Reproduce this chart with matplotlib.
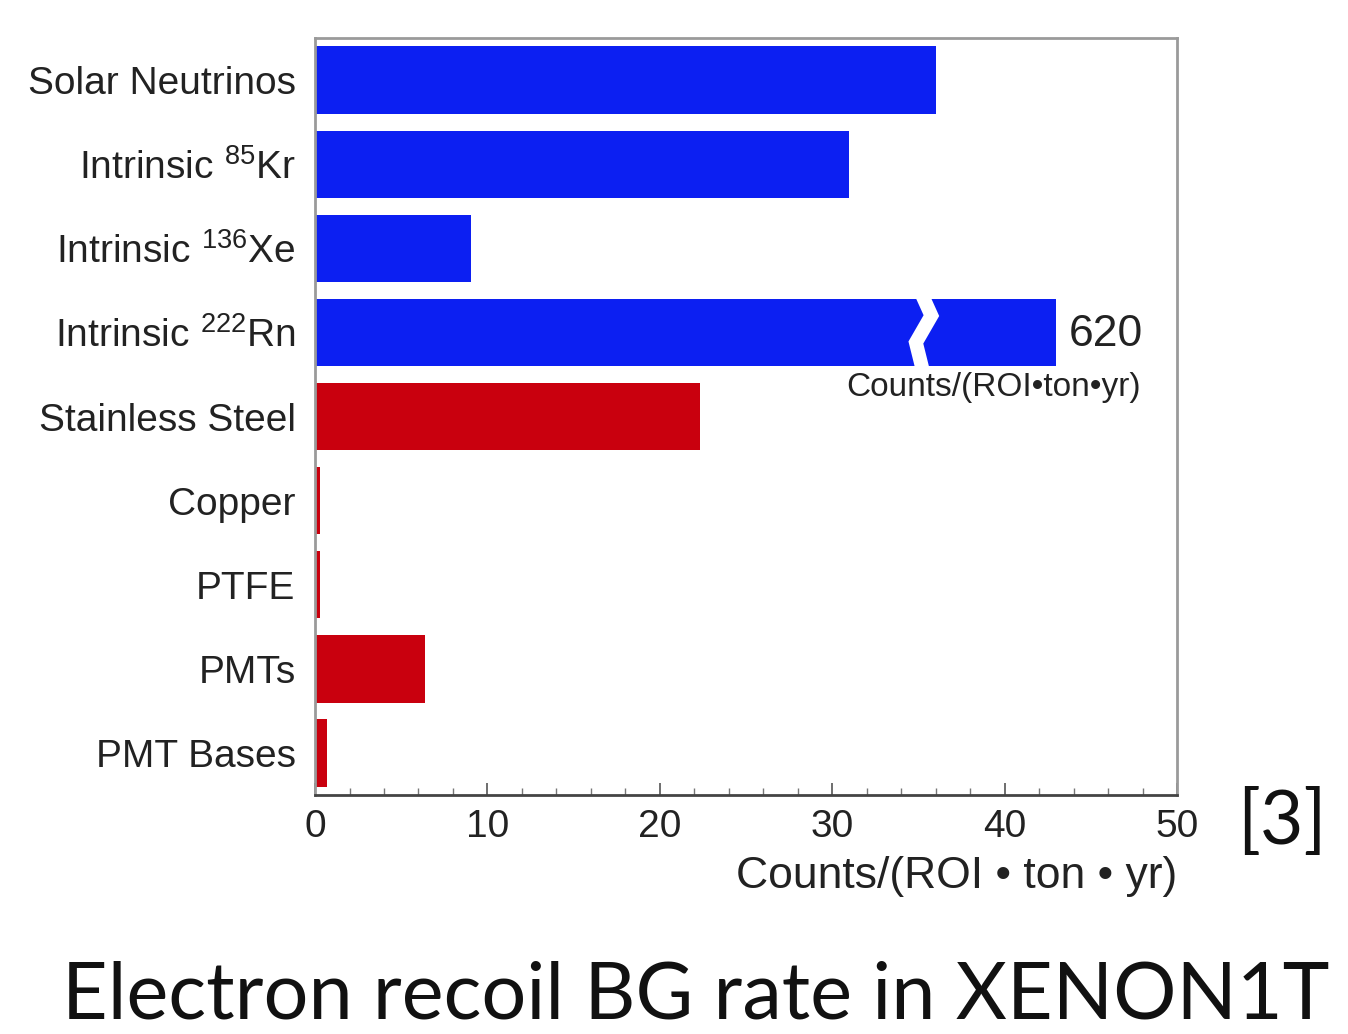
import matplotlib
matplotlib.use("Agg")
import matplotlib.pyplot as plt
from matplotlib.ticker import MultipleLocator

plt.rcParams['font.family'] = ['Liberation Sans', 'DejaVu Sans']
plt.rcParams['mathtext.default'] = 'regular'

# background sources and rates in Counts/(ROI*ton*yr)
sources = ['Solar Neutrinos', 'Intrinsic $^{85}$Kr', 'Intrinsic $^{136}$Xe',
           'Intrinsic $^{222}$Rn', 'Stainless Steel', 'Copper', 'PTFE',
           'PMTs', 'PMT Bases']
rates = [36.0, 31.0, 9.05, 620, 22.3, 0.3, 0.3, 6.4, 0.7]
kinds = ['intrinsic'] * 4 + ['material'] * 5
kind_colors = {'intrinsic': '#0c1ff2', 'material': '#c9000e'}

axis_max = 50
broken_len = 43   # drawn length of a bar that goes off the scale
break_at = 35.2

fig = plt.figure(figsize=(13.48, 10.34), dpi=100)
ax = fig.add_axes([0.2337, 0.2311, 0.6395, 0.7321])

shown = [r if r <= axis_max else broken_len for r in rates]
colors = [kind_colors[k] for k in kinds]
ypos = list(range(len(sources)))
ax.barh(ypos, shown, height=0.8, color=colors, edgecolor='none')

# axis break drawn across the off-scale bar
for i, r in enumerate(rates):
    if r > axis_max:
        zx = [break_at, break_at + 0.55, break_at - 0.35, break_at + 0.05]
        zy = [i - 0.45, i - 0.2, i + 0.12, i + 0.45]
        ax.plot(zx, zy, color='white', lw=10, solid_joinstyle='miter',
                solid_capstyle='butt', zorder=3)
        ax.text(broken_len + 0.7, i + 0.02, f'{r:g}', fontsize=32,
                color='#222222', va='center', ha='left')
        ax.text(broken_len + 4.9, i + 0.66, 'Counts/(ROI\u2022ton\u2022yr)',
                fontsize=24, color='#222222', va='center', ha='right')

ax.set_xlim(0, axis_max)
ax.set_ylim(len(sources) - 0.5, -0.5)
ax.set_yticks(ypos)
ax.set_yticklabels(sources, fontsize=28, color='#222222')
ax.tick_params(axis='y', length=0, pad=14)

ax.xaxis.set_major_locator(MultipleLocator(10))
ax.xaxis.set_minor_locator(MultipleLocator(2))
ax.tick_params(axis='x', which='major', direction='in', length=9, width=1.2,
               color='#555555', labelsize=28, labelcolor='#222222', pad=10)
ax.tick_params(axis='x', which='minor', direction='in', length=5, width=1.0,
               color='#777777')
ax.set_xlabel('Counts/(ROI \u2022 ton \u2022 yr)', fontsize=32, color='#222222',
              loc='right', labelpad=8)

for side in ['top', 'right', 'left']:
    ax.spines[side].set_color('#9a9a9a')
    ax.spines[side].set_linewidth(2)
ax.spines['bottom'].set_color('#444444')
ax.spines['bottom'].set_linewidth(2)

fig.text(0.918, 0.205, '[3]', fontsize=54, family=['Lato', 'DejaVu Sans'],
         color='#111111', ha='left', va='center')
fig.text(0.046, 0.001, 'Electron recoil BG rate in XENON1T', fontsize=57,
         family=['Lato', 'DejaVu Sans'], color='#111111',
         ha='left', va='bottom')

fig.savefig('out.png', dpi=100)
